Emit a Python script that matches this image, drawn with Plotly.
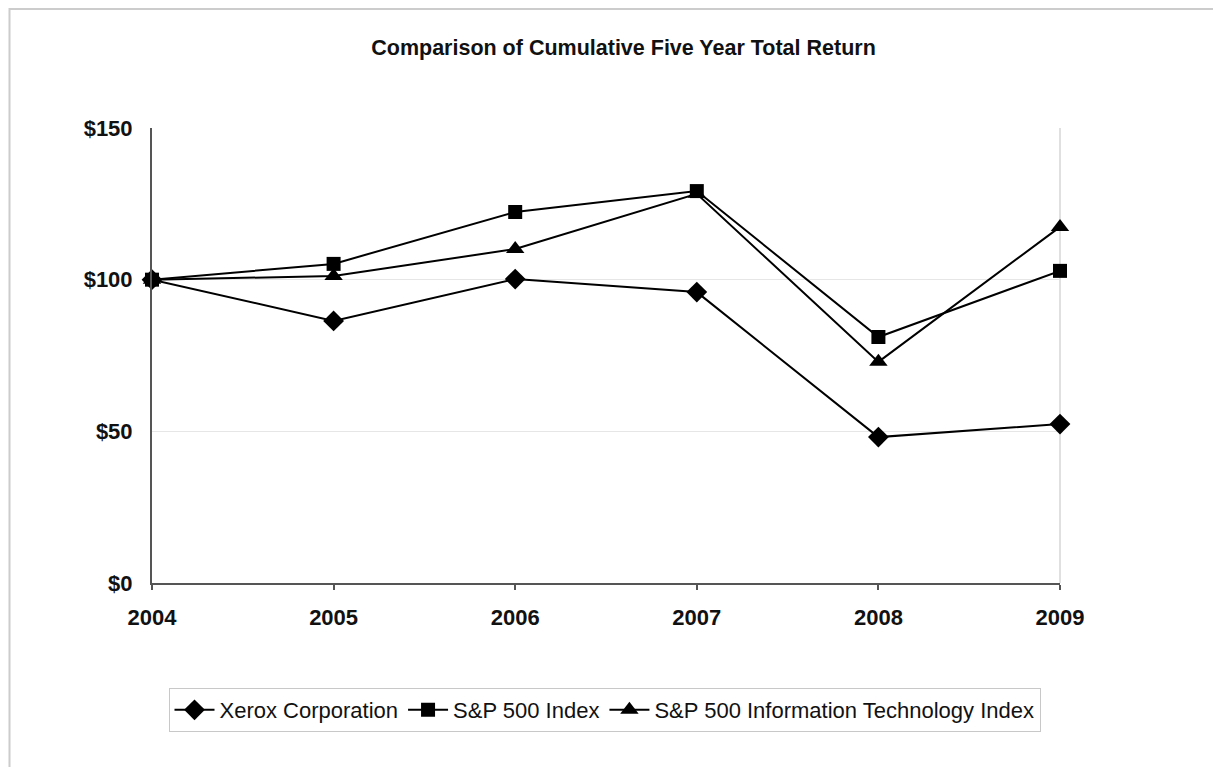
import plotly.graph_objects as go

years = [2004, 2005, 2006, 2007, 2008, 2009]
xerox = [100, 86.4, 100.2, 95.9, 48.1, 52.4]
sp500 = [100, 105.2, 122.3, 129.2, 81.1, 102.9]
sp_it = [100, 101.2, 110.1, 128.3, 72.9, 117.4]
series_names = ["Xerox Corporation", "S&P 500 Index", "S&P 500 Information Technology Index"]
y_ticks = [0, 50, 100, 150]
y_tick_labels = ["$0", "$50", "$100", "$150"]

# page offset (browser body margin) compensation
W, H = 1213, 759
L, T = 144, 120
PW, PH = 908, 455

fig = go.Figure()
for name, vals, sym, sz in zip(series_names, [xerox, sp500, sp_it],
                               ["diamond", "square", "triangle-up"], [16, 14, 16]):
    fig.add_trace(go.Scatter(
        x=years, y=vals, name=name, mode="lines+markers",
        line=dict(color="black", width=2),
        marker=dict(symbol=sym, size=sz, color="black"),
        cliponaxis=False,
    ))

fig.update_layout(
    width=W, height=H,
    paper_bgcolor="white", plot_bgcolor="white",
    margin=dict(l=L, r=W - L - PW, t=T, b=H - T - PH, pad=0),
    title=dict(text="<b>Comparison of Cumulative Five Year Total Return</b>",
               x=(623.5 - 8 - L) / PW, xref="paper", xanchor="center", y=1 - 39 / H, yanchor="middle",
               font=dict(family="Liberation Sans, Arial", size=21.5, color="#111")),
    font=dict(family="Liberation Sans, Arial", color="#111"),
    showlegend=True,
    legend=dict(orientation="h", x=(596.5 - L) / PW, xref="paper", xanchor="center",
                y=-(702 - T - PH) / PH, yanchor="middle",
                bordercolor="#c8c8c8", borderwidth=1,
                font=dict(family="Liberation Sans, Arial", size=22, color="#111"),
                itemwidth=40, tracegroupgap=0),
    xaxis=dict(range=[2004, 2009], tickvals=years, ticktext=["<b>%d</b>" % y for y in years],
               showgrid=False, showline=True, linecolor="#555", linewidth=2,
               ticks="outside", ticklen=5, tickcolor="#555", tickwidth=2,
               tickfont=dict(size=22, family="Liberation Sans, Arial", color="#111"),
               ticklabelstandoff=9, zeroline=False),
    yaxis=dict(range=[0, 150], tickvals=y_ticks, ticktext=["<b>%s</b>" % t for t in y_tick_labels],
               showgrid=True, gridcolor="#e6e6e6", gridwidth=1,
               showline=True, linecolor="#555", linewidth=2, ticks="", zeroline=False,
               tickfont=dict(size=22, family="Liberation Sans, Arial", color="#111"),
               ticklabelstandoff=13),
    shapes=[
        dict(type="rect", xref="paper", yref="paper", x0=-(L - 1.5) / PW, x1=1.3,
             y0=-0.5, y1=1 + (T - 1) / PH, line=dict(color="#cccccc", width=2), layer="below"),
        dict(type="line", xref="x domain", yref="y domain", x0=1, x1=1, y0=0, y1=1,
             line=dict(color="#e0e0e0", width=2), layer="below"),
    ],
)

fig.write_html("out.html")
